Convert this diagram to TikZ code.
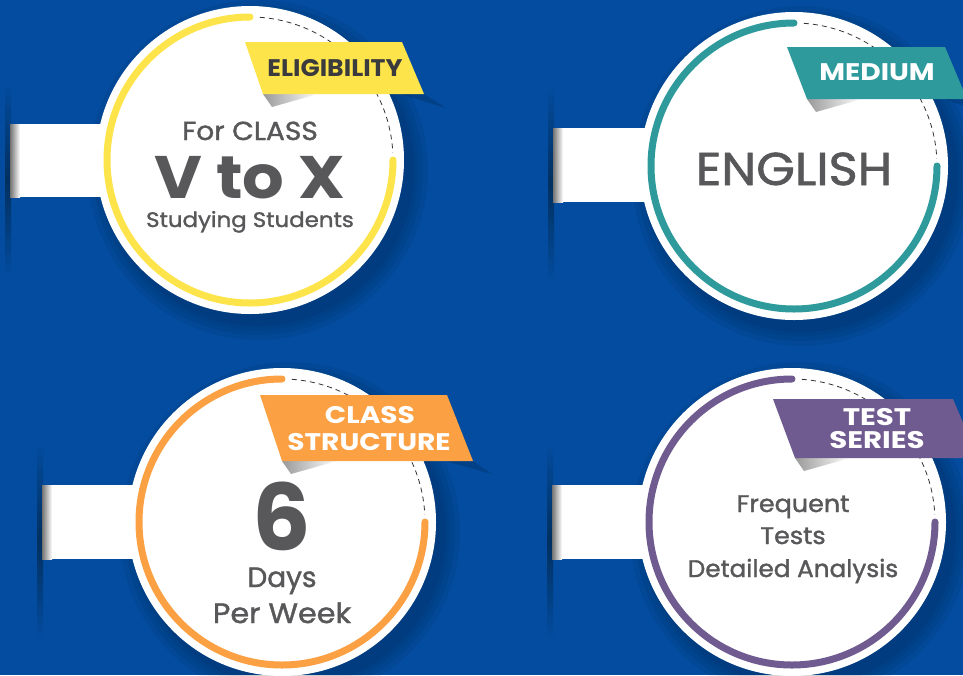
\documentclass[tikz,border=0pt]{standalone}
\usepackage{fontspec}
\setmainfont{Poppins}
\newfontfamily\medf{Poppins}[FakeBold=1.4]
\definecolor{bg}{HTML}{034C9F}
\definecolor{bgdark}{HTML}{01305F}
\definecolor{cyel}{HTML}{FDE44B}
\definecolor{cteal}{HTML}{2E9A9C}
\definecolor{corange}{HTML}{FCA044}
\definecolor{cpurple}{HTML}{6F5B8F}
\definecolor{txtgrey}{HTML}{58585A}
\definecolor{tagdark}{HTML}{3B3B3D}
\usetikzlibrary{calc}
\tikzset{
  arcline/.style={line width=7pt, line cap=round},
  dashline/.style={line width=0.8pt, draw=black!80, dash pattern=on 5pt off 4pt},
  txt/.style={anchor=base, text=txtgrey, inner sep=0pt},
  tagtxt/.style={anchor=base, inner sep=0pt},
}
\newcommand\tagfont[1]{\bfseries\fontsize{24}{24}\selectfont\addfontfeatures{FakeStretch=#1}}
\newcommand\medfont[2]{\medf\fontsize{#1}{#1}\selectfont\addfontfeatures{FakeStretch=#2}}
% #1 name, #2 cx, #3 cy, #4 colour, #5 bar left, #6 bar top, #7 bar bottom
\newcommand\infocard[7]{%
  \shade[top color=bg, bottom color=bg, middle color=bgdark] (#5-5,#6-42) rectangle (#5+1,#7+80);
  \foreach \rr in {170,165,160,156} \fill[black,opacity=0.05] (#2+8,#3+10) circle (\rr);
  \shade[left color=black!55, right color=white] (#5,#6) rectangle (#5+10,#7);
  \fill[white] (#5+10,#6) rectangle (#2,#7);
  \fill[white] (#2,#3) circle (154);
  \coordinate (#1) at (#2,#3);
  \draw[arcline, draw=#4] (#2,#3) ++(-90:143) arc[start angle=-90, end angle=-360, radius=143];
  \draw[dashline] (#2,#3) ++(-86:143) arc[start angle=-86, end angle=-3, radius=143];
}
\begin{document}
\begin{tikzpicture}[x=1pt,y=-1pt]
\useasboundingbox (0,0) rectangle (963,675);
\clip (0,0) rectangle (963,675);
\fill[bg] (0,0) rectangle (963,675);

\infocard{c1}{250}{160}{cyel}{10}{124}{197}
\infocard{c2}{794}{166}{cteal}{553}{128}{202}
\infocard{c3}{282}{522}{corange}{42}{485}{559}
\infocard{c4}{792}{522}{cpurple}{552}{485}{559}

% tag shadows on blue, beyond the circles
\fill[black,opacity=0.14] (400,94) -- (424,94) -- (446,108) -- cycle;
\fill[black,opacity=0.14] (945,99) -- (967,99) -- (980,112) -- cycle;
\fill[black,opacity=0.14] (445,461) -- (473,461) -- (492,474) -- cycle;
% fold shadows under the tags
\shade[left color=black!40, right color=white] (263,94) -- (318,94) -- (272,107) -- cycle;
\shade[left color=black!40, right color=white] (807,99) -- (862,99) -- (816,112) -- cycle;
\shade[left color=black!40, right color=white] (282,461) -- (337,461) -- (291,474) -- cycle;
\shade[left color=black!40, right color=white] (795,458) -- (850,458) -- (804,471) -- cycle;

% tags
\fill[cyel] (245,42) -- (402,42) -- (424,94) -- (263,94) -- cycle;
\fill[cteal] (787,47) -- (945,47) -- (967,99) -- (807,99) -- cycle;
\fill[corange] (260,395) -- (447,395) -- (473,461) -- (282,461) -- cycle;
\fill[cpurple] (773,399) -- (953,399) -- (978,458) -- (795,458) -- cycle;

\node[tagtxt, text=tagdark, font=\tagfont{1.05}] (t1) at (335,76) {ELIGIBILITY};
\node[tagtxt, text=white, font=\tagfont{1.17}] (t2) at (877,80) {MEDIUM};
\node[tagtxt, text=white, font=\tagfont{1.17}] (t3a) at (370,423) {CLASS};
\node[tagtxt, text=white, font=\tagfont{1.17}] (t3b) at (369,450) {STRUCTURE};
\node[tagtxt, text=white, font=\tagfont{1.22}] (t4a) at (877,425) {TEST};
\node[tagtxt, text=white, font=\tagfont{1.22}] (t4b) at (877,448) {SERIES};

% circle texts
\node[txt, font=\medfont{26}{1.08}] (a1) at (250,140) {For CLASS};
\node[txt, text depth=0pt, font=\bfseries\fontsize{60}{60}\selectfont\addfontfeatures{FakeStretch=1.09}] (a2) at (250,198) {V to X};
\node[txt, font=\medfont{21}{1.09}] (a3) at (250,227) {Studying Students};

\node[txt, font=\medfont{46}{1.08}] (b1) at (794,185) {ENGLISH};

\node[txt, text depth=0pt, font=\bfseries\fontsize{92}{92}\selectfont] (d1) at (282,550) {6};
\node[txt, font=\medfont{28}{1.0}] (d2) at (282,587) {Days};
\node[txt, font=\medfont{28}{1.08}] (d3) at (282,623) {Per Week};

\node[txt, font=\medfont{24}{1.06}] (e1) at (793,512) {Frequent};
\node[txt, font=\medfont{24}{1.06}] (e2) at (793,544) {Tests};
\node[txt, font=\medfont{24}{1.03}] (e3) at (793,577) {Detailed Analysis};
\end{tikzpicture}
\end{document}
